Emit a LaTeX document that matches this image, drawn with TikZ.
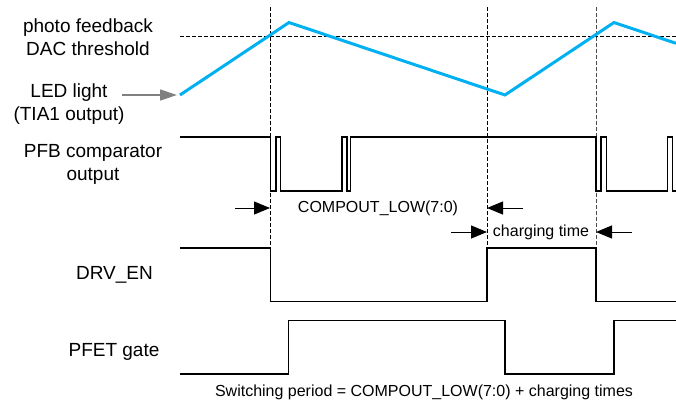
\documentclass[tikz,border=0pt]{standalone}
\usepackage{fontspec}
\setmainfont{Liberation Sans}
\usepackage{graphicx}
\usetikzlibrary{arrows.meta}
\definecolor{ledblue}{RGB}{0,176,240}
\definecolor{ptrgray}{RGB}{128,128,128}
\begin{document}
\begin{tikzpicture}[x=1bp,y=-1bp,
  lbl/.style={inner sep=0pt,align=center,font=\fontsize{19bp}{23bp}\selectfont},
  midlbl/.style={inner sep=0pt,font=\fontsize{16bp}{19bp}\selectfont},
  botlbl/.style={inner sep=0pt,font=\fontsize{16bp}{19bp}\selectfont},
  sig/.style={line width=1.6bp,line join=miter},
  ledsig/.style={line width=3bp,ledblue,line join=miter},
  guide/.style={line width=0.8bp,dash pattern=on 3.5bp off 2.5bp},
  meas/.style={line width=1bp,-{Triangle[length=16bp,width=13bp]}},
  ptr/.style={line width=1.5bp,ptrgray,-{Triangle[length=17bp,width=11bp]}}
]
\useasboundingbox (0,0) rectangle (676,402);

% labels
\node[lbl] (lpfb) at (88,37) {photo feedback\\DAC threshold};
\node[lbl] (lled) at (69,104) {LED light\\(TIA1 output)};
\node[lbl] (lcmp) at (93,164) {PFB comparator\\output};
\node[lbl] (ldrv) at (114.5,275) {DRV\_EN};
\node[lbl] (lgate) at (114,352) {PFET gate};

% threshold and guides
\coordinate (th0) at (180,36.5);
\coordinate (th1) at (676,36.5);
\draw[guide] (th0) -- (th1);
\coordinate (g1a) at (270.5,7);  \coordinate (g1b) at (270.5,248);
\coordinate (g2a) at (487,7);    \coordinate (g2b) at (487,248);
\coordinate (g3a) at (596,7);    \coordinate (g3b) at (596,248);
\draw[guide] (g1a) -- (g1b);
\draw[guide] (g2a) -- (g2b);
\draw[guide,black!70] (g3a) -- (g3b);

% LED light
\coordinate (led0) at (180,95);
\draw[ledsig] (led0) -- (289,22.5) -- (505,95) -- (614,22.5) -- (676,43.3);
\coordinate (ptrs) at (122,95);
\coordinate (ptre) at (177,95);
\draw[ptr] (ptrs) -- (ptre);

% comparator
\draw[sig] (180,137) -- (270.5,137) -- (270.5,191) -- (275.7,191) -- (275.7,137)
  -- (280.5,137) -- (280.5,191) -- (341.7,191) -- (341.7,137) -- (346.7,137)
  -- (346.7,191) -- (350.5,191) -- (350.5,137) -- (596,137) -- (596,191)
  -- (601,191) -- (601,137) -- (606.5,137) -- (606.5,191) -- (667.3,191)
  -- (667.3,137) -- (672.3,137) -- (672.3,191) -- (677,191);

% DRV_EN
\draw[sig] (180,248) -- (270.5,248) -- (270.5,301.5) -- (487,301.5) -- (487,248)
  -- (596,248) -- (596,301.5) -- (677,301.5);

% PFET gate
\draw[sig] (180,374) -- (288.5,374) -- (288.5,320.5) -- (505,320.5) -- (505,374)
  -- (614,374) -- (614,320.5) -- (677,320.5);

% measurement arrows
\coordinate (m1s) at (235,208);  \coordinate (m1e) at (270,208);
\coordinate (m2s) at (523,208);  \coordinate (m2e) at (487,208);
\coordinate (m3s) at (451,232);  \coordinate (m3e) at (487,232);
\coordinate (m4s) at (632,232);  \coordinate (m4e) at (596,232);
\draw[meas] (m1s) -- (m1e);
\draw[meas] (m2s) -- (m2e);
\draw[meas] (m3s) -- (m3e);
\draw[meas] (m4s) -- (m4e);
\node[midlbl] (tcomp) at (378,208) {COMPOUT\_LOW(7:0)};
\node[midlbl] (tchg) at (541,232) {charging time};

\node[botlbl] (tsw) at (424,392.5) {Switching period = COMPOUT\_LOW(7:0) + charging times};
\end{tikzpicture}
\end{document}
